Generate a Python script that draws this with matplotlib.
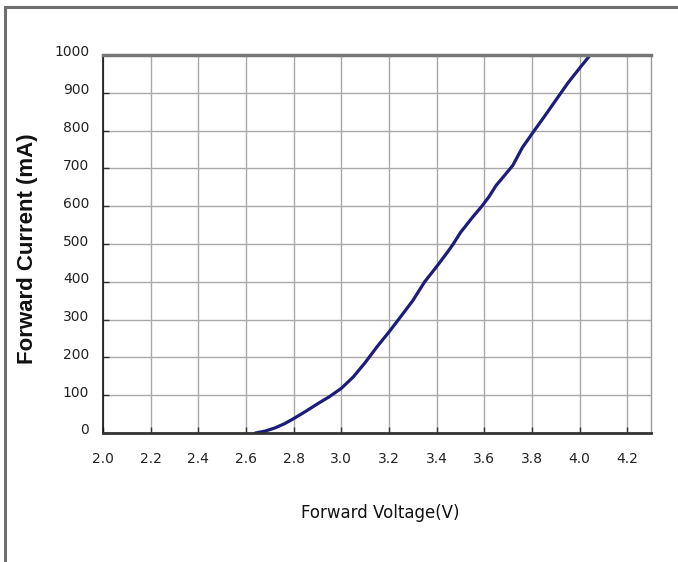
import numpy as np
import matplotlib.pyplot as plt
from matplotlib.patches import Rectangle
from matplotlib.transforms import ScaledTranslation

#%% DATA
voltage = [2.64, 2.68, 2.72, 2.76, 2.80, 2.85, 2.90, 2.95, 3.00, 3.05,
           3.10, 3.15, 3.20, 3.24, 3.30, 3.35, 3.40, 3.45, 3.47, 3.50,
           3.55, 3.59, 3.62, 3.65, 3.69, 3.72, 3.76, 3.81, 3.85, 3.90,
           3.95, 4.00, 4.045]
current = [0, 5, 13, 24, 38, 57, 77, 96, 118, 148,
           186, 228, 267, 300, 350, 400, 440, 482, 500, 530,
           570, 600, 625, 655, 685, 708, 755, 800, 835, 880,
           925, 965, 1000]

x_ticks = [2.0, 2.2, 2.4, 2.6, 2.8, 3.0, 3.2, 3.4, 3.6, 3.8, 4.0, 4.2]
y_ticks = [0, 100, 200, 300, 400, 500, 600, 700, 800, 900, 1000]

#%% PLOT
fig = plt.figure(figsize=(6.78, 5.62), dpi=100)
fig.patch.set_facecolor('white')

# outer frame round the picture
fig.patches.append(Rectangle((5/678, -0.05), 1.1, 1 - 7/562 + 0.05,
                             transform=fig.transFigure, fill=False,
                             edgecolor='#6e6e6e', lw=2.2, clip_on=False))

ax = fig.add_axes([103/678, 1 - 433/562, 548/678, 378/562])
ax.plot(voltage, current, color='#1c1c7a', lw=2.3,
        solid_capstyle='round', solid_joinstyle='round')

ax.set_xlim(2.0, 4.3)
ax.set_ylim(0, 1000)
ax.set_xticks(x_ticks)
ax.set_yticks(y_ticks)
ax.set_xticklabels(['%.1f' % v for v in x_ticks])
ax.grid(True, color='#a9a9a9', lw=1.0)
ax.set_axisbelow(True)

ax.tick_params(axis='both', direction='in', length=4, width=1,
               labelsize=10, labelcolor='#222222', color='#333333')
ax.tick_params(axis='x', pad=14)
ax.tick_params(axis='y', pad=10)
for lbl in ax.get_yticklabels():
    lbl.set_transform(lbl.get_transform() + ScaledTranslation(0, 4/100, fig.dpi_scale_trans))

ax.spines['left'].set_color('#111111')
ax.spines['left'].set_linewidth(1.2)
ax.spines['bottom'].set_color('#333333')
ax.spines['bottom'].set_linewidth(2.0)
ax.spines['top'].set_color('#777777')
ax.spines['top'].set_linewidth(2.5)
ax.spines['right'].set_color('#999999')
ax.spines['right'].set_linewidth(1.0)

fig.text(28/678, 1 - 249/562, 'Forward Current (mA)', rotation=90,
         ha='center', va='center', fontsize=16, fontweight='bold',
         family='Liberation Sans', color='#111111')
fig.text(380/678, 1 - 513/562, 'Forward Voltage(V)', ha='center', va='center',
         fontsize=12, color='#111111')

fig.savefig('out.png', dpi=100)
